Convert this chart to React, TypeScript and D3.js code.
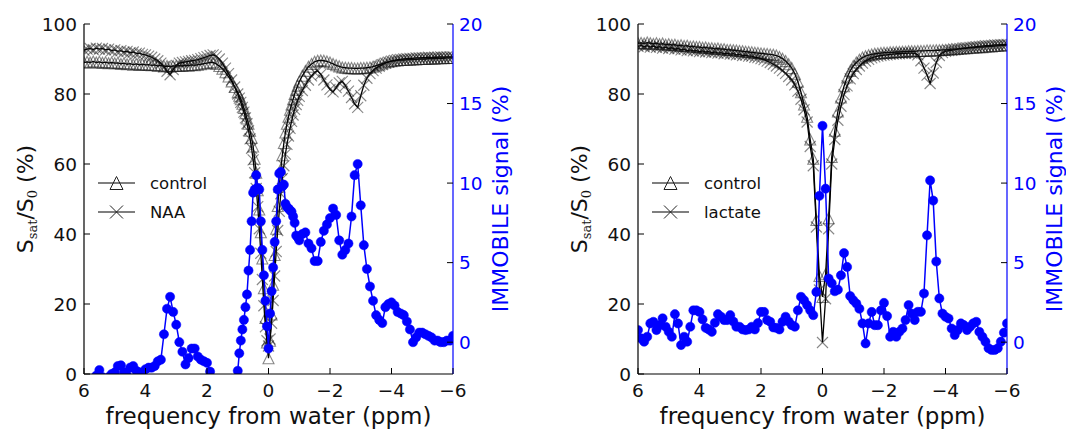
import React from 'react';
import * as d3 from 'd3';

// ---------- DATA ----------
// left panel sampling grid (ppm): 0.1 steps outside ±1 ppm, 0.05 steps inside
const leftFreq: number[] = [
  ...d3.range(60, 10, -1).map((i) => i / 10),
  ...d3.range(20, -20, -1).map((i) => i / 20),
  ...d3.range(-10, -61, -1).map((i) => i / 10),
];
// right panel sampling grid (ppm): 0.1 steps
const rightFreq: number[] = d3.range(60, -61, -1).map((i) => i / 10);

const xTicks = [6, 4, 2, 0, -2, -4, -6];
const leftTicks = [0, 20, 40, 60, 80, 100];
const rightTicks = [0, 5, 10, 15, 20];

// Left panel: control (triangles), NAA (crosses), IMMOBILE signal (blue)
const leftControl = [
  89, 89.2, 89, 89.3, 89, 89.2, 88.9, 89.1, 88.8, 89,
  88.8, 88.9, 88.6, 88.8, 88.5, 88.7, 88.4, 88.6, 88.3, 88.5,
  88.3, 88.4, 88.2, 88.3, 88, 88.2, 87.9, 88, 87.8, 88,
  88, 88.1, 88, 88.2, 88.1, 88.3, 88.2, 88.4, 88.5, 88.7,
  88.8, 89, 89, 88.6, 88, 87.2, 86.2, 85, 83.6, 82,
  80.5, 79.5, 78.5, 77.2, 76, 74.5, 73, 71.5, 69.5, 67.5,
  65, 61.5, 57.5, 52.5, 47, 40.5, 33, 24.5, 16, 9,
  4.5, 9.5, 17, 25.5, 34, 41.5, 48, 53.5, 58.5, 62.5,
  66, 69, 71.5, 73.5, 75.5, 77, 78.5, 80, 81.2, 82.4,
  83.5, 85.2, 86.6, 87.8, 88.6, 89.2, 89.5, 89.6, 89.5, 89.3,
  89, 88.6, 88.2, 87.9, 87.6, 87.5, 87.4, 87.4, 87.3, 87.3,
  87.4, 87.4, 87.5, 87.6, 87.8, 88.1, 88.4, 88.7, 89, 89.2,
  89.4, 89.5, 89.6, 89.7, 89.7, 89.8, 89.8, 89.9, 89.9, 90,
  90, 90, 90.1, 90.1, 90.1, 90.2, 90.2, 90.2, 90.3, 90.3, 90.3,
];
const leftNAA = [
  92.5, 92.8, 93, 92.7, 93.1, 92.8, 93, 92.6, 92.8, 92.4,
  92.6, 92.2, 92.4, 92, 92.2, 91.8, 92, 91.6, 91.7, 91.3,
  91.2, 90.8, 90.5, 90, 89.5, 88.8, 87.8, 86.5, 85.5, 87,
  88.2, 88.8, 89, 89.2, 89.3, 89.5, 89.6, 89.8, 90.1, 90.4,
  90.7, 91, 91.2, 90.8, 90, 88.8, 87.4, 85.8, 84, 82,
  80, 78.8, 77.6, 76.2, 74.8, 73.2, 71.5, 69.5, 67.2, 64.5,
  61.2, 57.5, 53, 47.8, 41.5, 34.5, 27, 19.5, 13.5, 9.5,
  8, 10, 14.5, 21, 28, 35, 41, 46.5, 51.5, 55.8,
  59.5, 62.8, 65.6, 68, 70.2, 72.2, 74, 75.6, 77, 78.2,
  79.3, 81, 82.5, 84, 85.2, 86.2, 86.6, 85.6, 84, 82.6,
  81.3, 80.6, 81.8, 83.2, 83.6, 82.4, 80.8, 79, 77.2, 76.2,
  79.5, 82.5, 84.5, 85.8, 86.7, 87.4, 87.9, 88.4, 88.8, 89.1,
  89.4, 89.6, 89.8, 89.9, 90, 90.1, 90.2, 90.2, 90.3, 90.3,
  90.4, 90.4, 90.5, 90.4, 90.5, 90.5, 90.6, 90.5, 90.6, 90.6, 90.6,
];
const leftImmobile = [
  -3, -3, -2.5, -2.3, -2.1, -1.75, -2.2, -2.5, -2.2, -2.0,
  -1.9, -1.5, -1.45, -1.9, -2.1, -1.6, -1.5, -1.8, -1.9, -1.9,
  -1.7, -1.6, -1.6, -1.5, -1.2, -1.1, 0.5, 2.1, 2.85, 1.9,
  1.1, 0.0, -0.6, -1.4, -1.0, -0.4, -0.4, -0.9, -1.1, -1.2,
  -1.3, -1.85, -2.5, -3, -3.5, -4, -4, -3.8, -3.5, -2.8,
  -1.8, -0.7, 0.1, 0.8, 1.4, 2.2, 3.0, 4.5, 5.8, 7.6,
  9.4, 9.6, 10.5, 9.7, 9.6, 7.6, 5.8, 4.2, 2.6, 1.0,
  -0.4, 1.8, 3.2, 4.7, 6.3, 7.6, 9.6, 10.6, 10.7, 9.8,
  9.9, 8.7, 8.5, 8.4, 8.3, 8.2, 7.9, 7.5, 6.7, 6.6,
  6.4, 6.8, 6.9, 6.2, 5.9, 5.1, 5.1, 6.3, 7.0, 7.4,
  7.8, 8.4, 8.0, 6.4, 5.5, 5.8, 6.2, 7.9, 10.5, 11.2,
  8.6, 6.1, 4.6, 3.5, 2.6, 1.7, 1.4, 1.2, 2.2, 2.4,
  2.5, 2.3, 1.9, 1.8, 1.7, 1.3, 0.8, 0.0, 0.3, 0.6,
  0.6, 0.5, 0.4, 0.3, 0.1, 0.1, 0.0, 0.0, 0.1, 0.1, 0.4,
];

// Right panel: control (triangles), lactate (crosses), IMMOBILE signal (blue)
const rightControl = [
  94.5, 94.6, 94.4, 94.7, 94.5, 94.3, 94.5, 94.2, 94.4, 94.1,
  94.2, 94, 94.1, 93.8, 93.9, 93.7, 93.8, 93.5, 93.6, 93.4,
  93.4, 93.2, 93.3, 93.1, 93.1, 92.9, 93, 92.8, 92.8, 92.6,
  92.6, 92.5, 92.4, 92.3, 92.2, 92.1, 92, 91.9, 91.8, 91.7,
  91.6, 91.5, 91.4, 91.3, 91.2, 91, 90.6, 90.1, 89.4, 88.5,
  87.4, 85.8, 83.5, 80.5, 77, 73.5, 67, 61.5, 44, 28,
  22, 28.5, 44.5, 62, 69.5, 75, 79, 82.2, 84.7, 86.6,
  88, 89, 89.8, 90.4, 90.8, 91.1, 91.3, 91.5, 91.6, 91.7,
  91.8, 91.8, 91.9, 91.9, 92, 92, 92.1, 92.1, 92.2, 92.2,
  92.2, 92.3, 92.3, 92.3, 92.4, 92.4, 92.4, 92.5, 92.5, 92.6,
  92.6, 92.7, 92.8, 92.8, 92.9, 93, 93, 93.1, 93.2, 93.2,
  93.3, 93.4, 93.4, 93.5, 93.6, 93.6, 93.7, 93.8, 93.8, 93.9,
  94,
];
const rightLactate = [
  93.6, 93.9, 93.5, 93.8, 93.4, 93.7, 93.3, 93.5, 93.1, 93.4,
  93, 93.2, 92.8, 93, 92.6, 92.8, 92.4, 92.6, 92.3, 92.4,
  92.1, 92.3, 92, 92.1, 91.8, 92, 91.7, 91.8, 91.5, 91.7,
  91.4, 91.5, 91.2, 91.3, 91, 91.1, 90.8, 90.8, 90.5, 90.4,
  90.1, 89.8, 89.4, 89, 88.5, 88, 87.4, 86.7, 85.9, 85,
  84, 82.6, 80.8, 78.5, 75.5, 72, 65, 59.5, 42, 24,
  9, 21.5, 41.5, 60, 67, 72.5, 76.5, 79.8, 82.3, 84.3,
  85.8, 87, 88, 88.8, 89.4, 89.9, 90.3, 90.6, 90.8, 91,
  91.1, 91.2, 91.3, 91.4, 91.5, 91.5, 91.6, 91.6, 91.7, 91.7,
  91.6, 91.2, 89.5, 87.4, 85.4, 83, 86, 89, 91, 91.8,
  92.2, 92.4, 92.5, 92.7, 92.8, 92.9, 93.1, 93.2, 93.3, 93.4,
  93.5, 93.6, 93.7, 93.8, 93.8, 93.9, 94, 94, 94.1, 94.1,
  94.2,
];
const rightImmobile = [
  0.76, 0.24, 0.03, 0.34, 1.18, 1.28, 0.76, 1.07, 1.5, 0.97,
  0.65, 0.34, 1.76, 1.18, -0.18, 0.34, 0.03, 0.97, 2.0, 2.0,
  1.9, 1.43, 0.9, 0.8, 0.65, 1.22, 1.76, 1.6, 1.39, 1.39,
  1.7, 1.3, 0.97, 0.97, 0.8, 0.76, 0.8, 0.97, 0.8, 1.2,
  1.9, 1.9, 1.39, 1.28, 0.93, 0.9, 0.8, 1.28, 1.6, 1.3,
  1.07, 0.97, 2.0, 2.85, 2.64, 2.33, 2.0, 1.7, 3.16, 9.2,
  13.6, 9.65, 4.0, 3.7, 3.2, 3.3, 4.2, 5.6, 4.73, 2.9,
  2.64, 2.43, 2.1, 1.18, -0.08, 1.18, 1.9, 1.07, 1.07, 2.0,
  2.47, 1.64, 0.34, 0.65, 0.34, 0.65, 0.86, 1.39, 2.33, 1.8,
  1.39, 1.91, 1.91, 3.06, 6.72, 10.17, 8.9, 5.07, 2.75, 1.8,
  1.6, 1.49, 0.86, 0.45, 0.76, 1.18, 1.07, 0.76, 0.97, 1.18,
  1.28, 0.65, 0.34, 0.03, -0.38, -0.49, -0.49, -0.38, 0.03, 0.6,
  1.18,
];

// ---------- DRAWING ----------
const FONT = '"DejaVu Sans", sans-serif';
const BLUE = '#0000ff';
const TOP = 24;
const BOTTOM = 374;

const fmt = (v: number) => (v < 0 ? '\u2212' + Math.abs(v) : String(v));

const triPath = (cx: number, cy: number, s: number) =>
  `M${cx},${cy - s / 2}L${cx + s / 2},${cy + s / 2}L${cx - s / 2},${cy + s / 2}Z`;
const crossPath = (cx: number, cy: number, s: number) => {
  const h = s / 2;
  return `M${cx - h},${cy - h}L${cx + h},${cy + h}M${cx - h},${cy + h}L${cx + h},${cy - h}`;
};

type PanelProps = {
  id: string;
  x0: number;
  x1: number;
  freq: number[];
  control: number[];
  other: number[];
  immobile: number[];
  otherLabel: string;
};

function Panel({ id, x0, x1, freq, control, other, immobile, otherLabel }: PanelProps) {
  const x = d3.scaleLinear().domain([6, -6]).range([x0, x1]);
  const yL = d3.scaleLinear().domain([0, 100]).range([BOTTOM, TOP]);
  const yR = d3.scaleLinear().domain([-2, 20]).range([BOTTOM, TOP]);
  const lineL = d3
    .line<number>()
    .x((_, i) => x(freq[i]))
    .y((v) => yL(v));
  const lineR = d3
    .line<number>()
    .x((_, i) => x(freq[i]))
    .y((v) => yR(v));
  const clip = `clip-${id}`;
  const MS = 11;
  const markerStyle = { fill: 'none', stroke: '#111', strokeOpacity: 0.5, strokeWidth: 1.1 };
  const cx = (x0 + x1) / 2;
  const cy = (TOP + BOTTOM) / 2;
  const legX = x0 + 14;
  const legW = 37;

  return (
    <g>
      <defs>
        <clipPath id={clip}>
          <rect x={x0} y={TOP} width={x1 - x0} height={BOTTOM - TOP} />
        </clipPath>
      </defs>
      <g clipPath={`url(#${clip})`}>
        <path d={lineL(control) || ''} fill="none" stroke="#000" strokeWidth={1.3} />
        {control.map((v, i) => (
          <path key={`c${i}`} d={triPath(x(freq[i]), yL(v), MS)} {...markerStyle} />
        ))}
        <path d={lineL(other) || ''} fill="none" stroke="#000" strokeWidth={1.3} />
        {other.map((v, i) => (
          <path key={`o${i}`} d={crossPath(x(freq[i]), yL(v), MS)} {...markerStyle} />
        ))}
      </g>
      {/* legend */}
      <g fontFamily={FONT} fontSize={16.5}>
        <line x1={legX} x2={legX + legW} y1={183} y2={183} stroke="#000" strokeWidth={1.2} />
        <path d={triPath(legX + legW / 2, 183, 13)} fill="none" stroke="#222" strokeWidth={1} />
        <text x={x0 + 66} y={183} dy="0.35em" fill="#111">control</text>
        <line x1={legX} x2={legX + legW} y1={212} y2={212} stroke="#000" strokeWidth={1.2} />
        <path d={crossPath(legX + legW / 2, 212, 13)} fill="none" stroke="#222" strokeWidth={1} />
        <text x={x0 + 66} y={212} dy="0.35em" fill="#111">{otherLabel}</text>
      </g>
      {/* blue series on twin axis */}
      <g clipPath={`url(#${clip})`}>
        <path d={lineR(immobile) || ''} fill="none" stroke={BLUE} strokeWidth={1.5} />
        {immobile.map((v, i) => (
          <circle key={`b${i}`} cx={x(freq[i])} cy={yR(v)} r={4.6} fill={BLUE} stroke={BLUE} strokeWidth={0.5} />
        ))}
      </g>
      {/* spines */}
      <line x1={x0} x2={x0} y1={TOP} y2={BOTTOM} stroke="#000" strokeWidth={1.2} />
      <line x1={x0} x2={x1} y1={BOTTOM} y2={BOTTOM} stroke="#000" strokeWidth={1.2} />
      <line x1={x1} x2={x1} y1={TOP} y2={BOTTOM} stroke={BLUE} strokeWidth={1.2} />
      {/* ticks */}
      <g fontFamily={FONT} fontSize={18.5}>
        {xTicks.map((t) => (
          <g key={`x${t}`}>
            <line x1={x(t)} x2={x(t)} y1={BOTTOM} y2={BOTTOM - 6} stroke="#000" />
            <text x={x(t)} y={BOTTOM + 23} textAnchor="middle" fill="#111">{fmt(t)}</text>
          </g>
        ))}
        {leftTicks.map((t) => (
          <g key={`l${t}`}>
            <line x1={x0} x2={x0 + 6} y1={yL(t)} y2={yL(t)} stroke="#000" />
            <text x={x0 - 7} y={yL(t)} dy="0.36em" textAnchor="end" fill="#111">{fmt(t)}</text>
          </g>
        ))}
        {rightTicks.map((t) => (
          <g key={`r${t}`}>
            <line x1={x1} x2={x1 - 6} y1={yR(t)} y2={yR(t)} stroke="#000" />
            <text x={x1 + 6} y={yR(t)} dy="0.36em" textAnchor="start" fill={BLUE}>{fmt(t)}</text>
          </g>
        ))}
      </g>
      {/* axis labels */}
      <text x={cx} y={424} textAnchor="middle" fontFamily={FONT} fontSize={23} fill="#111">
        frequency from water (ppm)
      </text>
      <text
        transform={`translate(${x0 - 51},${cy}) rotate(-90)`}
        textAnchor="middle"
        fontFamily={FONT}
        fontSize={22}
        fill="#111"
      >
        S
        <tspan fontFamily='"DejaVu Serif", serif' fontSize={13} dy={4}>sat</tspan>
        <tspan dy={-4}>/S</tspan>
        <tspan fontFamily='"DejaVu Serif", serif' fontSize={13} dy={4}>0</tspan>
        <tspan dy={-4}>{' (%)'}</tspan>
      </text>
      <text
        transform={`translate(${x1 + 55},${cy}) rotate(-90)`}
        textAnchor="middle"
        fontFamily={FONT}
        fontSize={22}
        fill={BLUE}
      >
        IMMOBILE signal (%)
      </text>
    </g>
  );
}

export default function App() {
  return (
    <svg
      width={1066}
      height={429}
      style={{ position: 'absolute', left: 0, top: 0, background: '#fff' }}
    >
      <rect width={1066} height={429} fill="#fff" />
      <Panel
        id="left"
        x0={84}
        x1={453}
        freq={leftFreq}
        control={leftControl}
        other={leftNAA}
        immobile={leftImmobile}
        otherLabel="NAA"
      />
      <Panel
        id="right"
        x0={638}
        x1={1007}
        freq={rightFreq}
        control={rightControl}
        other={rightLactate}
        immobile={rightImmobile}
        otherLabel="lactate"
      />
    </svg>
  );
}
